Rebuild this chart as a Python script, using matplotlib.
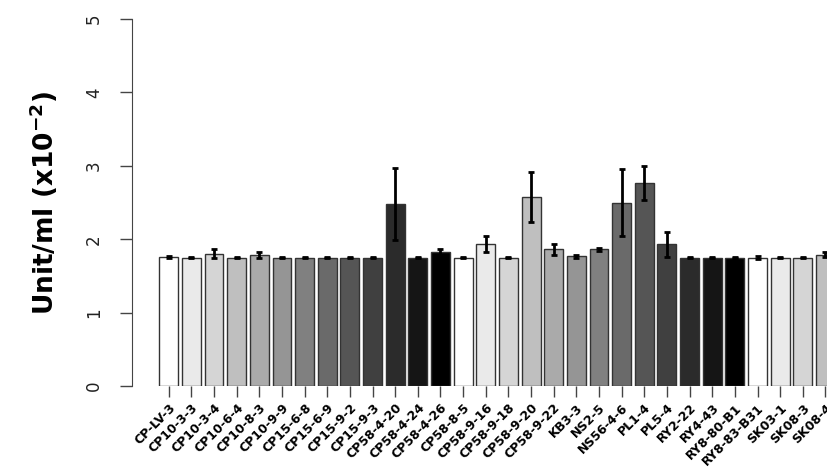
import numpy as np
import matplotlib
matplotlib.use('Agg')
import matplotlib.pyplot as plt

strains = ['CP-LV-3', 'CP10-3-3', 'CP10-3-4', 'CP10-6-4', 'CP10-8-3', 'CP10-9-9',
           'CP15-6-8', 'CP15-6-9', 'CP15-9-2', 'CP15-9-3', 'CP58-4-20', 'CP58-4-24',
           'CP58-4-26', 'CP58-8-5', 'CP58-9-16', 'CP58-9-18', 'CP58-9-20', 'CP58-9-22',
           'KB3-3', 'NS2-5', 'NS56-4-6', 'PL1-4', 'PL5-4', 'RY2-22', 'RY4-43',
           'RY8-80-B1', 'RY8-83-B31', 'SK03-1', 'SK08-3', 'SK08-4']
activity = [1.76, 1.75, 1.80, 1.75, 1.79, 1.75, 1.75, 1.75, 1.75, 1.75,
            2.48, 1.75, 1.82, 1.75, 1.93, 1.75, 2.57, 1.86, 1.77, 1.86,
            2.50, 2.77, 1.93, 1.75, 1.75, 1.75, 1.75, 1.75, 1.75, 1.79]
sd = [0.01, 0.005, 0.06, 0.005, 0.04, 0.005, 0.005, 0.005, 0.01, 0.005,
      0.49, 0.005, 0.05, 0.005, 0.11, 0.005, 0.34, 0.07, 0.02, 0.015,
      0.45, 0.23, 0.17, 0.005, 0.005, 0.005, 0.015, 0.005, 0.005, 0.03]

# grey ramp from white to black, recycled over the bars
greys = [str(g) for g in np.linspace(1, 0, 13)]
colors = [greys[i % 13] for i in range(len(strains))]

# barplot-style positions: width 1, space 0.2
x = 0.7 + 1.2 * np.arange(len(strains))

fig = plt.figure(figsize=(8.27, 4.70), dpi=100)
ax = fig.add_axes([132.3 / 827, 84 / 470, 729.6 / 827, 367 / 470])

ax.bar(x, activity, width=1.0, color=colors, edgecolor='#333333', linewidth=1.0)
ax.errorbar(x, activity, yerr=sd, fmt='none', ecolor='black',
            elinewidth=2, capsize=2, capthick=2)

ax.set_xlim(-1.232, 37.432)
ax.set_ylim(0, 5)

for side in ['top', 'right', 'bottom']:
    ax.spines[side].set_visible(False)
ax.spines['left'].set_bounds(0, 5)
ax.spines['left'].set_color('#444444')

ax.set_yticks([0, 1, 2, 3, 4, 5])
ax.set_yticklabels(['0', '1', '2', '3', '4', '5'], rotation=90, va='center',
                   fontsize=12, color='#222222')
ax.tick_params(axis='y', length=9, width=1, color='#444444', pad=12)

ax.set_xticks(x)
ax.set_xticklabels(strains, rotation=45, ha='right', va='top',
                   rotation_mode='anchor', fontsize=9, fontweight='bold')
ax.tick_params(axis='x', length=8, width=1, color='#444444', pad=3)

ax.set_ylabel('Unit/ml (x10$^{\\mathbf{-2}}$)', fontsize=19, fontweight='bold',
              labelpad=18)

fig.savefig('out.png', dpi=100)
